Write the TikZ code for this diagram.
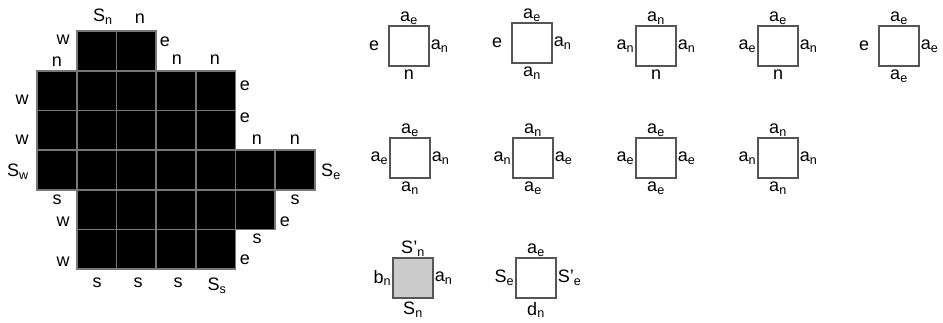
\documentclass[tikz,border=0pt]{standalone}
\usepackage{fontspec}
\setmainfont{Liberation Sans}
\usetikzlibrary{positioning}
\definecolor{rand}{HTML}{777777}
\definecolor{kante}{HTML}{555555}
\definecolor{grau}{HTML}{CCCCCC}
\newcommand{\lbl}[2]{#1\textsubscript{#2}}

\begin{document}
\begin{tikzpicture}[
  x=1pt,y=-1pt,
  font=\fontsize{18}{20}\selectfont,
  cell/.style={fill=black,draw=rand,line width=1.6pt},
  tile/.style={draw=kante,line width=1.2pt,minimum size=40pt,inner sep=0pt},
  lab/.style={inner sep=1pt},
  glab/.style={inner sep=0pt}
]
  \useasboundingbox (0,0) rectangle (943,322);
  % polyomino
  \foreach \r/\a/\b in {0/1/2, 1/0/4, 2/0/4, 3/0/6, 4/1/5, 5/1/4}
    \foreach \c in {\a,...,\b}
      \filldraw[cell] ({37+39.7*\c},{31+39.7*\r}) rectangle ++(39.7,39.7);
  % edge labels of the polyomino
  \foreach \x/\y/\t [count=\i] in {
    103/17/{\lbl{S}{n}}, 140/19/n, 63/40/w, 165/42/e, 57/62/n, 177/60/n,
    215/60/n, 245/86/e, 22/100/w, 245/118/e, 22/140/w, 257/140/n,
    295/140/n, 18/172/{\lbl{S}{w}}, 331/172/{\lbl{S}{e}}, 57/200/s,
    295/200/s, 63/222/w, 285/222/e, 257/239/s, 63/262/w, 245/260/e,
    97/283/s, 138/283/s, 178/283/s, 217/286/{\lbl{S}{s}}}
    \node[glab] (g\i) at (\x,\y) {\t};
  % tiles
  \foreach \x/\y/\tn/\te/\ts/\tw/\f [count=\i] in {
    409/46/{\lbl{a}{e}}/{\lbl{a}{n}}/n/{e\kern8pt}/white,
    532/43/{\lbl{a}{e}}/{\lbl{a}{n}}/{\lbl{a}{n}}/{e\kern8pt}/white,
    656/46/{\lbl{a}{n}}/{\lbl{a}{n}}/n/{\lbl{a}{n}}/white,
    778/46/{\lbl{a}{e}}/{\lbl{a}{n}}/n/{\lbl{a}{e}}/white,
    899/46/{\lbl{a}{e}}/{\lbl{a}{e}}/{\lbl{a}{e}}/{e\kern8pt}/white,
    410/158/{\lbl{a}{e}}/{\lbl{a}{n}}/{\lbl{a}{n}}/{\lbl{a}{e}}/white,
    533/158/{\lbl{a}{n}}/{\lbl{a}{e}}/{\lbl{a}{e}}/{\lbl{a}{n}}/white,
    656/158/{\lbl{a}{e}}/{\lbl{a}{e}}/{\lbl{a}{e}}/{\lbl{a}{e}}/white,
    778/158/{\lbl{a}{n}}/{\lbl{a}{n}}/{\lbl{a}{n}}/{\lbl{a}{n}}/white,
    413/278/{\lbl{S'}{n}}/{\lbl{a}{n}}/{\lbl{S}{n}}/{\lbl{b}{n}}/grau,
    536/278/{\lbl{a}{e}}/{\lbl{S'}{e}}/{\lbl{d}{n}}/{\lbl{S}{e}}/white}
  {
    \node[tile,fill=\f] (t\i) at (\x,\y) {};
    \node[lab,above=0pt of t\i] (t\i-n) {\tn};
    \node[lab,right=0pt of t\i] (t\i-e) {\te};
    \node[lab,inner sep=3.5pt,below=0pt of t\i] (t\i-s) {\ts};
    \node[lab,left=0pt of t\i] (t\i-w) {\tw};
  }
\end{tikzpicture}
\end{document}
